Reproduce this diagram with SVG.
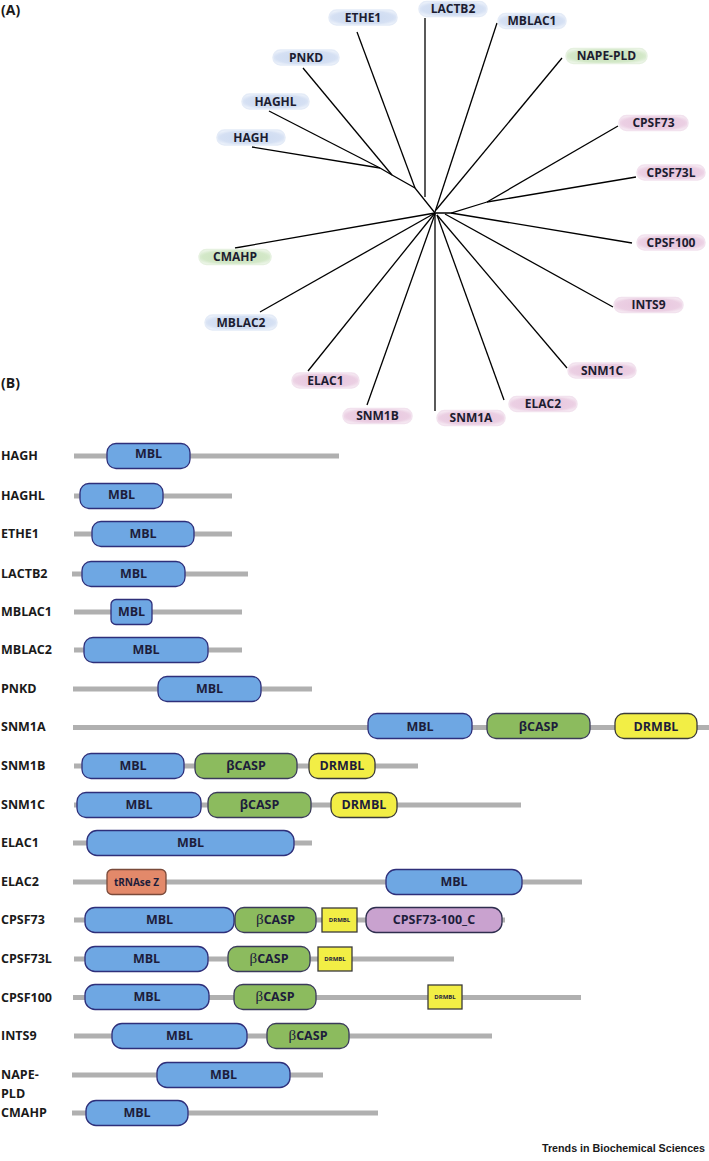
<svg xmlns="http://www.w3.org/2000/svg" width="709" height="1161" viewBox="0 0 709 1161">
<defs>
<radialGradient id="gBlue" cx="50%" cy="50%" r="60%"><stop offset="0" stop-color="#c9d8f0"/><stop offset="0.75" stop-color="#d5e0f3"/><stop offset="1" stop-color="#eef3fb"/></radialGradient>
<radialGradient id="gGreen" cx="50%" cy="50%" r="60%"><stop offset="0" stop-color="#c7e0b9"/><stop offset="0.75" stop-color="#d3e8c8"/><stop offset="1" stop-color="#eef6ea"/></radialGradient>
<radialGradient id="gPink" cx="50%" cy="50%" r="60%"><stop offset="0" stop-color="#e6c3dc"/><stop offset="0.75" stop-color="#ebcfe3"/><stop offset="1" stop-color="#f7ecf4"/></radialGradient>
</defs>
<style>
.pl{font-family:"Open Sans","Liberation Sans",sans-serif;font-weight:bold;font-size:12px;fill:#1c1c30;text-anchor:middle}
.pb{fill:url(#gBlue);stroke:#e4ebf7;stroke-width:1.5}
.pg{fill:url(#gGreen);stroke:#e6f1e0;stroke-width:1.5}
.pp{fill:url(#gPink);stroke:#f2e2ee;stroke-width:1.5}
.br{stroke:#000;stroke-width:1.3;fill:none}
.lab{font-family:"Open Sans","Liberation Sans",sans-serif;font-weight:bold;font-size:12.5px;fill:#1a1a1a}
.hd{font-family:"Open Sans","Liberation Sans",sans-serif;font-weight:bold;font-size:14px;fill:#1a1a1a}
.bar{stroke:#b0b0b0;stroke-width:5}
.mbl{fill:#6ea7e3;stroke:#2e2f7a;stroke-width:1.3}
.bc{fill:#8cbb5e;stroke:#3a3a5a;stroke-width:1.3}
.dr{fill:#f2ee45;stroke:#3a3a3a;stroke-width:1.3}
.tr{fill:#e3896a;stroke:#7a4a3a;stroke-width:1.3}
.cp{fill:#c9a2cf;stroke:#2e2e4e;stroke-width:1.3}
.bt{font-family:"Open Sans","Liberation Sans",sans-serif;font-weight:bold;font-size:12.5px;fill:#1d1d3b;text-anchor:middle}
.st{font-family:"Open Sans","Liberation Sans",sans-serif;font-weight:bold;font-size:6px;fill:#1d1d3b;text-anchor:middle}
.sb{font-family:"Liberation Serif",serif;font-weight:normal;font-size:15px}
.tbs{font-family:"Liberation Sans",Arial,sans-serif;font-weight:bold;font-size:11px;fill:#1a1a1a;text-anchor:end}
</style>
<text class="hd" x="1" y="15">(A)</text>
<text class="hd" x="1" y="388">(B)</text>
<g id="tree-connectors">
<path class="br" d="M425,18 V197"/>
<path class="br" d="M357,32 L415,188"/>
<path class="br" d="M303,68 L392,175"/>
<path class="br" d="M269,111 L380,168"/>
<path class="br" d="M252,147 L380,168"/>
<path class="br" d="M380,168 L392,175 L415,188 L435,213"/>
<path class="br" d="M497,23 L435,212"/>
<path class="br" d="M562,58 L436,210"/>
<path class="br" d="M618,126 L487,202"/>
<path class="br" d="M636,177 L487,202"/>
<path class="br" d="M487,202 L451,213 H435"/>
<path class="br" d="M632,243 L451,213"/>
<path class="br" d="M613,307 L445,214"/>
<path class="br" d="M567,368 L437,215"/>
<path class="br" d="M504,400 L437,215"/>
<path class="br" d="M435,213 V411"/>
<path class="br" d="M367,405 L435,214"/>
<path class="br" d="M308,371 L435,213"/>
<path class="br" d="M260,312 L435,213"/>
<path class="br" d="M235,248 L435,213"/>
</g>
<g id="t-ETHE1"><rect class="pb" x="329" y="10" width="68" height="15" rx="7.5"/><text class="pl" x="363" y="21.8">ETHE1</text></g>
<g id="t-LACTB2"><rect class="pb" x="419" y="1.5" width="68" height="15" rx="7.5"/><text class="pl" x="453" y="13.3">LACTB2</text></g>
<g id="t-MBLAC1"><rect class="pb" x="498" y="13.5" width="68" height="15" rx="7.5"/><text class="pl" x="532" y="25.3">MBLAC1</text></g>
<g id="t-PNKD"><rect class="pb" x="273" y="50" width="66" height="15" rx="7.5"/><text class="pl" x="306" y="61.8">PNKD</text></g>
<g id="t-NAPE-PLD"><rect class="pg" x="566" y="48.5" width="81" height="15" rx="7.5"/><text class="pl" x="606.5" y="60.3">NAPE-PLD</text></g>
<g id="t-HAGHL"><rect class="pb" x="242" y="94" width="67" height="15" rx="7.5"/><text class="pl" x="275.5" y="105.8">HAGHL</text></g>
<g id="t-HAGH"><rect class="pb" x="217" y="130" width="68" height="15" rx="7.5"/><text class="pl" x="251" y="141.8">HAGH</text></g>
<g id="t-CPSF73"><rect class="pp" x="619" y="115.5" width="69" height="15" rx="7.5"/><text class="pl" x="653.5" y="127.3">CPSF73</text></g>
<g id="t-CPSF73L"><rect class="pp" x="637" y="165" width="68" height="15" rx="7.5"/><text class="pl" x="671" y="176.8">CPSF73L</text></g>
<g id="t-CPSF100"><rect class="pp" x="637" y="235" width="68" height="15" rx="7.5"/><text class="pl" x="671" y="246.8">CPSF100</text></g>
<g id="t-CMAHP"><rect class="pg" x="199" y="249.5" width="72" height="15" rx="7.5"/><text class="pl" x="235" y="261.3">CMAHP</text></g>
<g id="t-INTS9"><rect class="pp" x="614" y="297.5" width="69" height="15" rx="7.5"/><text class="pl" x="648.5" y="309.3">INTS9</text></g>
<g id="t-MBLAC2"><rect class="pb" x="205" y="315" width="72" height="15" rx="7.5"/><text class="pl" x="241" y="326.8">MBLAC2</text></g>
<g id="t-SNM1C"><rect class="pp" x="568" y="363" width="68" height="15" rx="7.5"/><text class="pl" x="602" y="374.8">SNM1C</text></g>
<g id="t-ELAC1"><rect class="pp" x="292" y="373" width="67" height="15" rx="7.5"/><text class="pl" x="325.5" y="384.8">ELAC1</text></g>
<g id="t-ELAC2"><rect class="pp" x="509" y="396.5" width="68" height="15" rx="7.5"/><text class="pl" x="543" y="408.3">ELAC2</text></g>
<g id="t-SNM1B"><rect class="pp" x="343" y="408.5" width="69" height="15" rx="7.5"/><text class="pl" x="377.5" y="420.3">SNM1B</text></g>
<g id="t-SNM1A"><rect class="pp" x="437" y="410.5" width="68" height="15" rx="7.5"/><text class="pl" x="471" y="422.3">SNM1A</text></g>

<g id="r-HAGH"><text class="lab" x="1" y="460">HAGH</text><line class="bar" x1="74" y1="456" x2="339" y2="456"/><rect class="mbl" x="107" y="443.5" width="83" height="25" rx="9"/><text class="bt" x="148.5" y="458">MBL</text></g>
<g id="r-HAGHL"><text class="lab" x="1" y="500">HAGHL</text><line class="bar" x1="74" y1="496" x2="232" y2="496"/><rect class="mbl" x="80" y="483.5" width="83" height="25" rx="9"/><text class="bt" x="121.5" y="499">MBL</text></g>
<g id="r-ETHE1"><text class="lab" x="1" y="538">ETHE1</text><line class="bar" x1="74" y1="534" x2="232" y2="534"/><rect class="mbl" x="92" y="521.5" width="102" height="25" rx="9"/><text class="bt" x="143" y="538">MBL</text></g>
<g id="r-LACTB2"><text class="lab" x="1" y="578">LACTB2</text><line class="bar" x1="72" y1="574" x2="248" y2="574"/><rect class="mbl" x="82" y="561.5" width="103" height="25" rx="9"/><text class="bt" x="133.5" y="578">MBL</text></g>
<g id="r-MBLAC1"><text class="lab" x="1" y="616">MBLAC1</text><line class="bar" x1="74" y1="612" x2="242" y2="612"/><rect class="mbl" x="111" y="599.5" width="41" height="25" rx="5"/><text class="bt" x="131.5" y="616">MBL</text></g>
<g id="r-MBLAC2"><text class="lab" x="1" y="654">MBLAC2</text><line class="bar" x1="74" y1="650" x2="242" y2="650"/><rect class="mbl" x="84" y="637.5" width="124" height="25" rx="9"/><text class="bt" x="146" y="654">MBL</text></g>
<g id="r-PNKD"><text class="lab" x="1" y="693">PNKD</text><line class="bar" x1="73" y1="689" x2="312" y2="689"/><rect class="mbl" x="158" y="676.5" width="103" height="25" rx="9"/><text class="bt" x="209.5" y="693">MBL</text></g>
<g id="r-SNM1A"><text class="lab" x="1" y="731">SNM1A</text><line class="bar" x1="73" y1="727.5" x2="709" y2="727.5"/><rect class="mbl" x="368" y="713.5" width="104" height="25" rx="9"/><text class="bt" x="420" y="731">MBL</text><rect class="bc" x="487" y="713.5" width="103" height="25" rx="9"/><text class="bt" x="538.5" y="731">βCASP</text><rect class="dr" x="615" y="713.5" width="82" height="25" rx="9"/><text class="bt" x="656" y="731">DRMBL</text></g>
<g id="r-SNM1B"><text class="lab" x="1" y="770">SNM1B</text><line class="bar" x1="74" y1="766" x2="418" y2="766"/><rect class="mbl" x="82" y="753.5" width="102" height="25" rx="9"/><text class="bt" x="133" y="770">MBL</text><rect class="bc" x="195" y="753.5" width="102" height="25" rx="9"/><text class="bt" x="246" y="770">βCASP</text><rect class="dr" x="309" y="753.5" width="66" height="25" rx="9"/><text class="bt" x="342" y="770">DRMBL</text></g>
<g id="r-SNM1C"><text class="lab" x="1" y="809">SNM1C</text><line class="bar" x1="74" y1="805" x2="521" y2="805"/><rect class="mbl" x="77" y="792.5" width="124" height="25" rx="9"/><text class="bt" x="139" y="809">MBL</text><rect class="bc" x="208" y="792.5" width="103" height="25" rx="9"/><text class="bt" x="259.5" y="809">βCASP</text><rect class="dr" x="331" y="792.5" width="66" height="25" rx="9"/><text class="bt" x="364" y="809">DRMBL</text></g>
<g id="r-ELAC1"><text class="lab" x="1" y="847">ELAC1</text><line class="bar" x1="73" y1="843" x2="312" y2="843"/><rect class="mbl" x="87" y="830.5" width="207" height="25" rx="10"/><text class="bt" x="190.5" y="847">MBL</text></g>
<g id="r-ELAC2"><text class="lab" x="1" y="886">ELAC2</text><line class="bar" x1="73" y1="882" x2="582" y2="882"/><rect class="tr" x="107" y="869.5" width="59" height="25" rx="5"/><text class="bt" x="136.5" y="886" style="font-size:10px">tRNAse Z</text><rect class="mbl" x="386" y="869.5" width="136" height="25" rx="10"/><text class="bt" x="454" y="886">MBL</text></g>
<g id="r-CPSF73"><text class="lab" x="1" y="924">CPSF73</text><line class="bar" x1="74" y1="920" x2="505" y2="920"/><rect class="mbl" x="85" y="907.5" width="149" height="25" rx="10"/><text class="bt" x="159.5" y="924">MBL</text><rect class="bc" x="235" y="907.5" width="81" height="25" rx="9"/><text class="bt" x="275.5" y="924"><tspan class="sb">β</tspan>CASP</text><rect class="dr" x="322" y="908" width="35" height="24"/><text class="st" x="339.5" y="922">DRMBL</text><rect class="cp" x="366" y="907.5" width="136" height="25" rx="10"/><text class="bt" x="434" y="924">CPSF73-100_C</text></g>
<g id="r-CPSF73L"><text class="lab" x="1" y="963">CPSF73L</text><line class="bar" x1="74" y1="959" x2="454" y2="959"/><rect class="mbl" x="85" y="946.5" width="123" height="25" rx="10"/><text class="bt" x="146.5" y="963">MBL</text><rect class="bc" x="228" y="946.5" width="82" height="25" rx="9"/><text class="bt" x="269" y="963"><tspan class="sb">β</tspan>CASP</text><rect class="dr" x="318" y="947" width="34" height="24"/><text class="st" x="335" y="961">DRMBL</text></g>
<g id="r-CPSF100"><text class="lab" x="1" y="1002">CPSF100</text><line class="bar" x1="73" y1="997.5" x2="581" y2="997.5"/><rect class="mbl" x="85" y="984.5" width="124" height="25" rx="10"/><text class="bt" x="147" y="1001">MBL</text><rect class="bc" x="234" y="984.5" width="82" height="25" rx="9"/><text class="bt" x="275" y="1001"><tspan class="sb">β</tspan>CASP</text><rect class="dr" x="428" y="985" width="34" height="24"/><text class="st" x="445" y="999">DRMBL</text></g>
<g id="r-INTS9"><text class="lab" x="1" y="1040">INTS9</text><line class="bar" x1="74" y1="1036" x2="492" y2="1036"/><rect class="mbl" x="112" y="1023.5" width="135" height="25" rx="10"/><text class="bt" x="179.5" y="1040">MBL</text><rect class="bc" x="267" y="1023.5" width="82" height="25" rx="9"/><text class="bt" x="308" y="1040"><tspan class="sb">β</tspan>CASP</text></g>
<g id="r-NAPE-PLD"><text class="lab" x="1" y="1079">NAPE-</text><text class="lab" x="1" y="1098">PLD</text><line class="bar" x1="72" y1="1075" x2="323" y2="1075"/><rect class="mbl" x="157" y="1062.5" width="133" height="25" rx="10"/><text class="bt" x="223.5" y="1079">MBL</text></g>
<g id="r-CMAHP"><text class="lab" x="1" y="1117">CMAHP</text><line class="bar" x1="72" y1="1113" x2="378" y2="1113"/><rect class="mbl" x="86" y="1100.5" width="102" height="25" rx="10"/><text class="bt" x="137" y="1117">MBL</text></g>
<text class="tbs" x="705" y="1152" textLength="163" lengthAdjust="spacingAndGlyphs">Trends in Biochemical Sciences</text>
</svg>
